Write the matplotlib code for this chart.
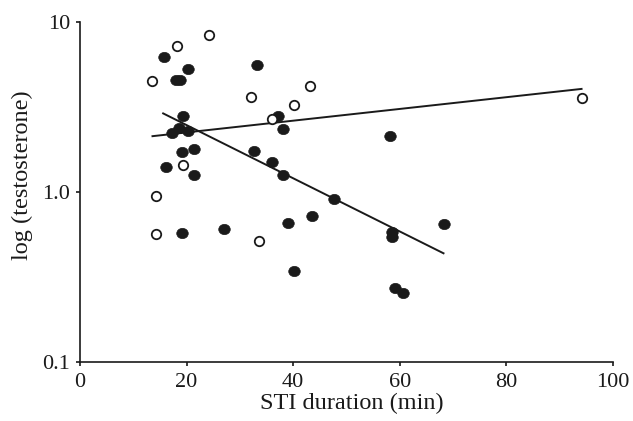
import matplotlib
matplotlib.use("Agg")
import matplotlib.pyplot as plt
from matplotlib.path import Path
from matplotlib.transforms import Affine2D
import numpy as np

# Filled circles (one group)
filled_x = [15.7, 20.2, 33.2, 18.1, 18.8, 19.3, 17.2, 18.6, 20.2, 19.2, 21.3, 16.2, 21.3,
            19.2, 27.1, 37.2, 38.1, 58.2, 32.6, 36.1, 38.1, 47.7, 39.1, 43.6, 58.6, 58.6,
            68.2, 40.2, 59.1, 60.6]
filled_y = [6.22, 5.31, 5.56, 4.56, 4.56, 2.81, 2.21, 2.39, 2.28, 1.73, 1.78, 1.40, 1.26,
            0.576, 0.608, 2.80, 2.35, 2.14, 1.74, 1.51, 1.26, 0.91, 0.654, 0.72, 0.584, 0.541,
            0.648, 0.344, 0.273, 0.256]

# Open circles (other group)
open_x = [13.6, 18.2, 24.2, 32.1, 43.2, 40.2, 36.1, 19.3, 14.3, 14.3, 33.6, 94.1]
open_y = [4.50, 7.26, 8.35, 3.64, 4.20, 3.25, 2.68, 1.44, 0.947, 0.569, 0.515, 3.56]

# Regression lines (endpoints)
filled_line_x = [15.6, 68.2]
filled_line_y = [2.90, 0.436]
open_line_x = [13.6, 94.1]
open_line_y = [2.13, 4.04]

x_ticks = [0, 20, 40, 60, 80, 100]
y_ticks = [0.1, 1.0, 10]
y_tick_labels = ["0.1", "1.0", "10"]

plt.rcParams['font.family'] = ['Liberation Serif', 'DejaVu Serif']

fig = plt.figure(figsize=(6.33, 4.21), dpi=100)
ax = fig.add_axes([80 / 633, 1 - 362 / 421, (613 - 80) / 633, (362 - 22) / 421])

ellipse = Path.unit_circle().transformed(Affine2D().scale(1.12, 1.0))

ax.plot(filled_line_x, filled_line_y, color='#1a1a1a', lw=1.4, zorder=2)
ax.plot(open_line_x, open_line_y, color='#1a1a1a', lw=1.4, zorder=2)

ax.plot(filled_x, filled_y, linestyle='none', marker=ellipse, markersize=8.3,
        markerfacecolor='#1a1a1a', markeredgecolor='#1a1a1a', markeredgewidth=0.5, zorder=3)
ax.plot(open_x, open_y, linestyle='none', marker='o', markersize=6.8,
        markerfacecolor='white', markeredgecolor='#1a1a1a', markeredgewidth=1.3, zorder=3)

ax.set_yscale('log')
ax.set_xlim(0, 100)
ax.set_ylim(0.1, 10)
ax.set_xticks(x_ticks)
ax.set_xticklabels([str(t) for t in x_ticks])
ax.set_yticks(y_ticks)
ax.set_yticklabels(y_tick_labels)
ax.yaxis.set_minor_locator(matplotlib.ticker.NullLocator())

for s in ['top', 'right']:
    ax.spines[s].set_visible(False)
for s in ['left', 'bottom']:
    ax.spines[s].set_linewidth(1.2)
    ax.spines[s].set_color('#1a1a1a')

ax.tick_params(axis='both', direction='out', length=3, width=1.2, labelsize=16,
               colors='#1a1a1a')
ax.tick_params(axis='x', pad=5)
ax.tick_params(axis='y', pad=4)

ax.set_xlabel('STI duration (min)', fontsize=17.5, color='#1a1a1a')
ax.set_ylabel('log (testosterone)', fontsize=17.5, color='#1a1a1a')
ax.xaxis.set_label_coords(0.51, -0.09)
ax.yaxis.set_label_coords(-0.088, 0.55)

fig.savefig('out.png', dpi=100)
